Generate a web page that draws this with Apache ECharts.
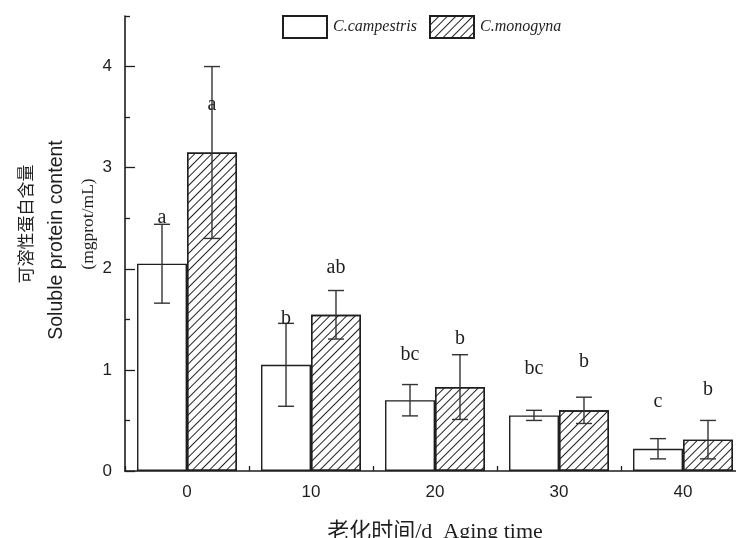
<!DOCTYPE html>
<html>
<head>
<meta charset="utf-8">
<script src="https://cdn.jsdelivr.net/npm/echarts@6/dist/echarts.min.js"></script>
<style>
  html, body { margin: 0; padding: 0; background: #fff; }
  #chart { width: 736px; height: 538px; }
</style>
</head>
<body>
<div id="chart"></div>
<script>
// Aging time categories (days)
const categories = ['0', '10', '20', '30', '40'];

// Soluble protein content, mgprot/mL (mean and standard deviation)
const campestrisMean = [2.05, 1.05, 0.70, 0.55, 0.22];
const campestrisErr  = [0.39, 0.41, 0.155, 0.05, 0.10];
const monogynaMean   = [3.15, 1.545, 0.83, 0.60, 0.31];
const monogynaErr    = [0.85, 0.24, 0.32, 0.13, 0.19];

// Significance letters and the height (in mgprot/mL) they sit at
const campestrisLetters = ['a', 'b', 'bc', 'bc', 'c'];
const campestrisLetterY = [2.50, 1.51, 1.15, 1.01, 0.68];
const monogynaLetters   = ['a', 'ab', 'b', 'b', 'b'];
const monogynaLetterY   = [3.62, 2.01, 1.31, 1.08, 0.80];

// Axis ticks
const yLabelTicks = [0, 1, 2, 3, 4];
const yMinorTicks = [0.5, 1.5, 2.5, 3.5, 4.5];
const yMax = 4.5;

const seriesNames = ['C.campestris', 'C.monogyna'];

const INK = '#1e1e1e';
const GAP_FRAC = 0.194;   // share of each band left empty between groups

const chart = echarts.init(document.getElementById('chart'), null, { renderer: 'canvas' });

// Horizontal offset of a bar's centre within its category band
function barOffset(api, side) {
  const band = api.size([1, 0])[0];
  const bw = band * (1 - GAP_FRAC) / 2;
  return side === 0 ? -bw / 2 : bw / 2;
}

const errData = [];
const letterData = [];
categories.forEach((c, i) => {
  errData.push([i, campestrisMean[i], campestrisErr[i], 0]);
  errData.push([i, monogynaMean[i], monogynaErr[i], 1]);
  letterData.push([i, campestrisLetterY[i], 0, campestrisLetters[i]]);
  letterData.push([i, monogynaLetterY[i], 1, monogynaLetters[i]]);
});

const hatch = {
  symbol: 'rect',
  symbolSize: 1,
  color: '#222',
  dashArrayX: [1, 0],
  dashArrayY: [1.0, 4.4],
  rotation: -Math.PI / 4
};

const option = {
  animation: false,
  backgroundColor: '#fff',
  grid: { left: 125, top: 16, bottom: 67, width: 620, outerBoundsMode: 'none', containLabel: false },
  legend: {
    left: 277,
    top: 10,
    itemWidth: 44,
    itemHeight: 22,
    itemGap: 12,
    icon: 'rect',
    data: seriesNames,
    textStyle: {
      fontFamily: 'Liberation Serif',
      fontStyle: 'italic',
      fontSize: 16,
      color: INK,
      padding: [0, 0, 0, 1]
    }
  },
  xAxis: {
    type: 'category',
    data: categories,
    name: '老化时间/d  Aging time',
    nameLocation: 'middle',
    nameGap: 50,
    nameMoveOverlap: false,
    nameTextStyle: { fontFamily: 'Liberation Serif, Noto Sans CJK SC', fontSize: 22, color: INK },
    axisLine: { lineStyle: { color: INK, width: 1.6 } },
    axisTick: { show: true, inside: true, length: 5, lineStyle: { color: INK, width: 1.3 } },
    axisLabel: { fontFamily: 'Liberation Sans', fontSize: 17, color: INK, margin: 13 },
    splitLine: { show: false }
  },
  yAxis: [
    {
      type: 'value',
      min: 0,
      max: yMax,
      interval: 1,
      name: '{cn|可溶性蛋白含量}\n{en|Soluble protein content}\n{unit|(mgprot/mL)}',
      nameLocation: 'middle',
      nameRotate: 90,
      nameGap: 21,
      nameMoveOverlap: false,
      nameTextStyle: {
        color: INK,
        lineHeight: 31.5,
        padding: [0, 0, 0, 39],
        rich: {
          cn: { fontFamily: 'Noto Sans CJK SC', fontSize: 17, color: INK, lineHeight: 31.5 },
          en: { fontFamily: 'Liberation Sans', fontSize: 19.5, color: INK, lineHeight: 31.5, padding: [0, 32, 0, 0] },
          unit: { fontFamily: 'Liberation Serif', fontSize: 17.5, color: INK, lineHeight: 31.5 }
        }
      },
      axisLine: { show: true, lineStyle: { color: INK, width: 1.6 } },
      axisTick: { show: true, inside: true, length: 10, customValues: yLabelTicks, lineStyle: { color: INK, width: 1.3 } },
      axisLabel: { customValues: yLabelTicks, fontFamily: 'Liberation Sans', fontSize: 17, color: INK, margin: 13 },
      splitLine: { show: false }
    },
    {
      type: 'value',
      min: 0,
      max: yMax,
      position: 'left',
      axisLine: { show: false },
      axisTick: { show: true, inside: true, length: 5, customValues: yMinorTicks, lineStyle: { color: INK, width: 1.3 } },
      axisLabel: { show: false },
      splitLine: { show: false }
    }
  ],
  series: [
    {
      name: seriesNames[0],
      type: 'bar',
      data: campestrisMean,
      barGap: 0,
      barCategoryGap: (GAP_FRAC * 100) + '%',
      itemStyle: { color: '#fff', borderColor: INK, borderWidth: 1.4 }
    },
    {
      name: seriesNames[1],
      type: 'bar',
      data: monogynaMean,
      barGap: 0,
      barCategoryGap: (GAP_FRAC * 100) + '%',
      itemStyle: { color: '#fff', borderColor: INK, borderWidth: 1.4, decal: hatch }
    },
    {
      name: 'error',
      type: 'custom',
      data: errData,
      z: 5,
      silent: true,
      renderItem(params, api) {
        const cat = api.value(0), mean = api.value(1), err = api.value(2), side = api.value(3);
        const x = api.coord([cat, 0])[0] + barOffset(api, side);
        const yTop = api.coord([cat, mean + err])[1];
        const yBot = api.coord([cat, mean - err])[1];
        const cap = 8;
        const style = { stroke: '#333', lineWidth: 1.4 };
        return {
          type: 'group',
          children: [
            { type: 'line', shape: { x1: x, y1: yTop, x2: x, y2: yBot }, style },
            { type: 'line', shape: { x1: x - cap, y1: yTop, x2: x + cap, y2: yTop }, style },
            { type: 'line', shape: { x1: x - cap, y1: yBot, x2: x + cap, y2: yBot }, style }
          ]
        };
      }
    },
    {
      name: 'letters',
      type: 'custom',
      data: letterData,
      z: 6,
      silent: true,
      renderItem(params, api) {
        const cat = api.value(0), yv = api.value(1), side = api.value(2);
        const txt = letterData[params.dataIndex][3];
        const p = api.coord([cat, yv]);
        return {
          type: 'text',
          x: p[0] + barOffset(api, side),
          y: p[1],
          style: {
            text: txt,
            fontFamily: 'Liberation Serif',
            fontSize: 20,
            fill: INK,
            align: 'center',
            verticalAlign: 'middle'
          }
        };
      }
    }
  ]
};

chart.setOption(option);
</script>
</body>
</html>
